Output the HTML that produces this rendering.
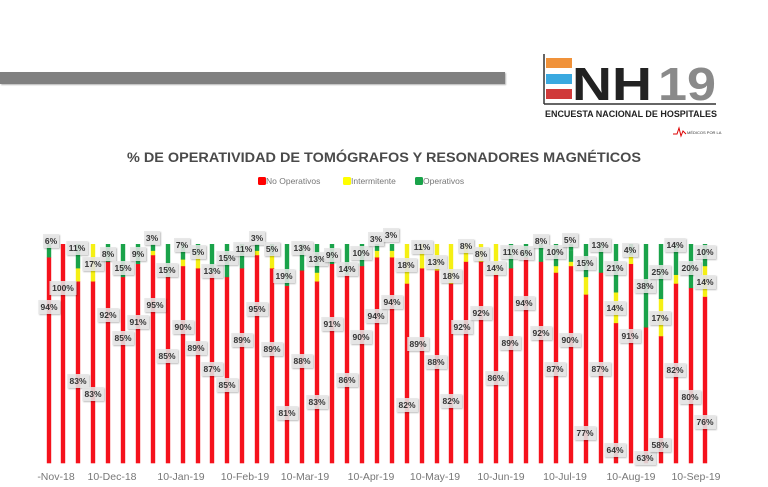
<!DOCTYPE html>
<html><head><meta charset="utf-8"><style>
html,body{margin:0;padding:0;background:#fff;width:768px;height:487px;overflow:hidden}
svg{display:block;font-family:"Liberation Sans",sans-serif}
</style></head><body>
<svg width="768" height="487" viewBox="0 0 768 487" xmlns="http://www.w3.org/2000/svg">
<defs><filter id="sh" x="-20%" y="-20%" width="150%" height="160%"><feDropShadow dx="1" dy="1" stdDeviation="0.8" flood-color="#000" flood-opacity="0.3"/></filter></defs>
<rect x="0" y="72" width="505" height="12" fill="#808080" filter="url(#sh)"/>
<line x1="544" y1="54" x2="544" y2="104" stroke="#333" stroke-width="1.5"/>
<line x1="544" y1="104" x2="716" y2="104" stroke="#333" stroke-width="1.5"/>
<rect x="546" y="58" width="26" height="10" fill="#f0923a"/>
<rect x="546" y="74" width="26" height="10" fill="#3aa9e0"/>
<rect x="546" y="89" width="26" height="10" fill="#d03a3a"/>
<text x="572" y="100" font-size="46" font-weight="bold" fill="#222" textLength="80" lengthAdjust="spacingAndGlyphs">NH</text>
<text x="658" y="100" font-size="46" font-weight="bold" fill="#8a8a8a" textLength="58" lengthAdjust="spacingAndGlyphs">19</text>
<text x="545" y="117" font-size="9.5" font-weight="bold" fill="#222" textLength="172" lengthAdjust="spacingAndGlyphs">ENCUESTA NACIONAL DE HOSPITALES</text>
<polyline points="673,134 677,134 679,128 681,136 683,131 686,134" fill="none" stroke="#d00" stroke-width="1"/>
<text x="687" y="134" font-size="4" fill="#333">MÉDICOS POR LA</text>
<text x="384" y="162" font-size="13.5" font-weight="bold" fill="#4a4a4a" text-anchor="middle" textLength="514" lengthAdjust="spacingAndGlyphs">% DE OPERATIVIDAD DE TOMÓGRAFOS Y RESONADORES MAGNÉTICOS</text>
<g font-size="8.5" fill="#777">
<rect x="258" y="177" width="8" height="8" rx="1.5" fill="#f00"/><text x="266" y="184">No Operativos</text>
<rect x="343" y="177" width="8" height="8" rx="1.5" fill="#ff0"/><text x="351" y="184">Intermitente</text>
<rect x="415" y="177" width="8" height="8" rx="1.5" fill="#1aa34a"/><text x="423" y="184">Operativos</text>
</g>
<g id="bars"></g>
<g id="labels" font-size="8.5" font-weight="bold" fill="#333" text-anchor="middle"></g>
<g font-size="10.5" fill="#777" text-anchor="middle">
<text x="56" y="480">-Nov-18</text>
<text x="112" y="480">10-Dec-18</text>
<text x="181" y="480">10-Jan-19</text>
<text x="245" y="480">10-Feb-19</text>
<text x="305" y="480">10-Mar-19</text>
<text x="371" y="480">10-Apr-19</text>
<text x="435" y="480">10-May-19</text>
<text x="501" y="480">10-Jun-19</text>
<text x="565" y="480">10-Jul-19</text>
<text x="631" y="480">10-Aug-19</text>
<text x="696" y="480">10-Sep-19</text>
</g>
</svg>
<script>
var D=[
[49,94,0,6,[[6,51,241],[94,49,307]]],
[63,100,0,0,[[100,63,288]]],
[78,83,6,11,[[11,77,248],[83,78,381]]],
[93,83,17,0,[[17,93,264],[83,93,394]]],
[108,92,0,8,[[8,108,254],[92,108,315]]],
[123,85,0,15,[[15,123,268],[85,123,338]]],
[138,91,0,9,[[9,138,254],[91,138,322]]],
[153,95,2,3,[[3,152,238],[95,155,305]]],
[168,85,0,15,[[15,167,270],[85,167,356]]],
[183,90,3,7,[[7,182,245],[90,183,327]]],
[198,89,6,5,[[5,198,252],[89,196,348]]],
[212,87,0,13,[[13,212,271],[87,212,369]]],
[227,85,0,15,[[15,227,258],[85,227,385]]],
[242,89,0,11,[[11,244,249],[89,242,340]]],
[257,95,2,3,[[3,257,238],[95,257,309]]],
[272,89,6,5,[[5,272,249],[89,272,349]]],
[287,81,0,19,[[19,284,276],[81,287,413]]],
[302,88,0,12,[[13,302,248],[88,302,361]]],
[317,83,4,13,[[13,317,259],[83,317,402]]],
[332,91,0,9,[[9,332,255],[91,332,324]]],
[347,86,0,14,[[14,347,269],[86,347,380]]],
[362,90,0,10,[[10,361,253],[90,361,337]]],
[377,94,3,3,[[3,376,239],[94,376,316]]],
[392,94,3,3,[[3,391,235],[94,392,302]]],
[407,82,18,0,[[18,406,265],[82,407,405]]],
[422,89,11,0,[[11,422,247],[89,418,344]]],
[437,88,12,0,[[13,436,262],[88,436,362]]],
[451,82,18,0,[[18,451,276],[82,451,401]]],
[466,92,8,0,[[8,466,246],[92,462,327]]],
[481,92,8,0,[[8,481,254],[92,481,313]]],
[496,86,14,0,[[14,495,268],[86,496,378]]],
[511,89,0,11,[[11,511,252],[89,510,343]]],
[526,94,0,6,[[6,526,253],[94,524,303]]],
[541,92,0,8,[[8,541,241],[92,541,333]]],
[556,87,3,10,[[10,555,252],[87,555,369]]],
[571,90,2,5,[[5,570,240],[90,570,340]]],
[586,77,8,15,[[15,585,263],[77,585,433]]],
[601,87,0,13,[[13,600,245],[87,600,369]]],
[616,64,14,22,[[21,615,268],[14,615,308],[64,615,450]]],
[631,91,4,5,[[4,630,250],[91,630,336]]],
[646,62,0,38,[[38,645,286],[63,645,458]]],
[661,58,17,25,[[25,660,272],[17,660,318],[58,660,445]]],
[676,82,4,14,[[14,675,245],[82,675,370]]],
[691,80,0,20,[[20,690,268],[80,690,397]]],
[705,76,14,10,[[10,705,252],[14,705,282],[76,705,422]]]
];
var NS="http://www.w3.org/2000/svg",B=document.getElementById("bars"),L=document.getElementById("labels");
function el(p,t,a){var e=document.createElementNS(NS,t);for(var k in a)e.setAttribute(k,a[k]);p.appendChild(e);return e;}
var yTop=244,yBot=463,H=yBot-yTop;
D.forEach(function(d){
 var x=d[0]-2.2,y=yBot,segs=[[d[1],"#f5121c"],[d[2],"#f5f014"],[d[3],"#1aa34a"]];
 segs.forEach(function(s){var h=s[0]/100*H; if(h>0){el(B,"rect",{x:x,y:y-h,width:4.4,height:h+0.3,fill:s[1]});y-=h;}});
 if(y>yTop)el(B,"rect",{x:x,y:yTop,width:4.4,height:y-yTop,fill:"#1aa34a"});
 d[4].forEach(function(l){var t=l[0]+"%",w=t.length*5.5+5;
  el(L,"rect",{x:l[1]-w/2,y:l[2]-7,width:w,height:14,fill:"#e6e6e6","fill-opacity":"0.85",filter:"url(#sh)"});
  var tx=el(L,"text",{x:l[1],y:l[2]+3});tx.textContent=t;});
});
</script>
</body></html>
